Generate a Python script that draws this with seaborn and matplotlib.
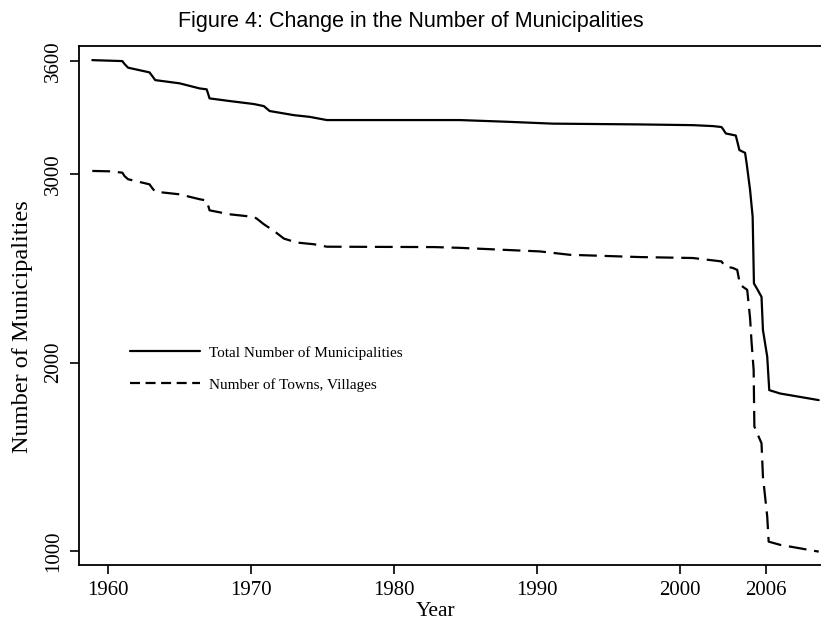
import matplotlib
matplotlib.use('Agg')
import matplotlib.pyplot as plt
import seaborn as sns
import pandas as pd

# Values
total_years = [1958.9, 1961.0, 1961.15, 1961.4, 1962.9, 1963.1, 1963.3, 1965.0, 1966.4,
               1966.9, 1967.1, 1968.5, 1970.2, 1970.9, 1971.3, 1973.0, 1974.1, 1975.3,
               1984.6, 1987.9, 1991.1, 1997.0, 2000.9, 2002.3, 2002.9, 2003.0, 2003.2,
               2003.9, 2004.05, 2004.15, 2004.55, 2004.66, 2004.9, 2005.08, 2005.17,
               2005.4, 2005.7, 2005.8, 2006.1, 2006.24, 2007.0, 2009.7]
total = [3605, 3600, 3585, 3565, 3540, 3520, 3499, 3482, 3455,
         3450, 3402, 3388, 3372, 3361, 3335, 3313, 3304, 3287,
         3287, 3278, 3268, 3264, 3260, 3255, 3250, 3240, 3216,
         3205, 3160, 3128, 3113, 3057, 2916, 2774, 2420,
         2390, 2349, 2173, 2031, 1854, 1836, 1801]

towns_years = [1958.9, 1960.1, 1961.0, 1961.15, 1961.4, 1962.9, 1963.1, 1963.3, 1965.0,
               1966.4, 1966.9, 1967.1, 1968.5, 1970.2, 1970.4, 1970.9, 1971.6, 1972.3,
               1973.2, 1974.4, 1975.3, 1982.8, 1984.6, 1988.1, 1990.2, 1992.3, 1997.2,
               2000.9, 2001.9, 2002.9, 2003.15, 2003.7, 2004.0, 2004.2, 2004.7, 2004.9,
               2005.0, 2005.15, 2005.2, 2005.5, 2005.7, 2005.8, 2006.1, 2006.2, 2007.0,
               2009.7]
towns = [3017, 3015, 3008, 2990, 2973, 2946, 2925, 2907, 2893,
         2867, 2860, 2808, 2787, 2773, 2764, 2734, 2699, 2658,
         2637, 2628, 2615, 2613, 2609, 2597, 2590, 2572, 2560,
         2555, 2546, 2537, 2511, 2502, 2492, 2413, 2386, 2236,
         2113, 1960, 1661, 1607, 1572, 1395, 1183, 1050, 1033,
         997]

x_ticks = [1960, 1970, 1980, 1990, 2000, 2006]
y_ticks = [1000, 2000, 3000, 3600]

sns.set_style('ticks')
plt.rcParams['font.family'] = ['Liberation Serif', 'DejaVu Serif']
plt.rcParams['text.color'] = 'black'
plt.rcParams['axes.labelcolor'] = 'black'

df_total = pd.DataFrame({'year': total_years, 'n': total})
df_towns = pd.DataFrame({'year': towns_years, 'n': towns})

fig = plt.figure(figsize=(8.21, 6.21), dpi=100)
ax = fig.add_axes([79 / 821, 1 - 565 / 621, 742 / 821, 519 / 621])

sns.lineplot(data=df_total, x='year', y='n', ax=ax, color='black', linewidth=1.6,
             estimator=None, sort=False, label='Total Number of Municipalities')
sns.lineplot(data=df_towns, x='year', y='n', ax=ax, color='black', linewidth=1.6,
             estimator=None, sort=False, dashes=False, label='Number of Towns, Villages')
ax.lines[1].set_dashes((8, 3.5))

ax.set_xlim(1957.97, 2009.86)
ax.set_ylim(926, 3680)
ax.set_xticks(x_ticks)
ax.set_yticks(y_ticks)
ax.tick_params(axis='both', labelsize=15, length=6.5, width=1.2, pad=5, colors='black')
for lab in ax.get_yticklabels():
    lab.set_rotation(90)
    lab.set_va('center')

for side in ['left', 'bottom', 'top']:
    ax.spines[side].set_color('black')
    ax.spines[side].set_linewidth(1.3)
ax.spines['right'].set_visible(False)

ax.set_xlabel('Year', fontsize=15.5, color='black')
ax.set_ylabel('Number of Municipalities', fontsize=17.5, color='black')
ax.xaxis.set_label_coords(0.48, -0.071)
ax.yaxis.set_label_coords(-0.062, 0.46)

leg = ax.legend(loc='center left', bbox_to_anchor=(0.0687, 0.378), frameon=False,
                fontsize=11, handlelength=4.6, handletextpad=0.55,
                labelspacing=1.2, borderpad=0, borderaxespad=0)
leg.get_lines()[1].set_dashes((4.5, 2.5))
for t in leg.get_texts():
    t.set_color('black')

fig.suptitle('Figure 4: Change in the Number of Municipalities', fontsize=15.5,
             family=['Liberation Sans', 'DejaVu Sans'], y=1 - 22 / 621, va='center', x=0.5,
             color='black')

fig.savefig('out.png', dpi=100)
